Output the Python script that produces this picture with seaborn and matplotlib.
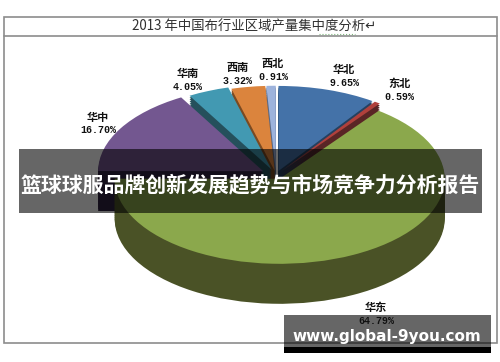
import numpy as np
import matplotlib
matplotlib.use('Agg')
import matplotlib.pyplot as plt
import matplotlib.patches as mpatches
import seaborn as sns

# data
regions = ['华北', '东北', '华东', '华中', '华南', '西南', '西北']
shares = [9.65, 0.59, 64.79, 16.70, 4.05, 3.32, 0.91]
slice_colors = ['#4472a8', '#b0403c', '#8ba84c', '#735790', '#4299b2', '#db843d', '#9db3dc']
side_colors = ['#25405f', '#5a2525', '#4a5226', '#2f2140', '#25505c', '#7a4a22', '#5a6a88']
explode = [0.05, 0.05, 0.05, 0.09, 0.07, 0.05, 0.05]
# back slices first, the big front slice last
draw_order = [6, 5, 4, 0, 1, 3, 2]

chart_title = '2013 年中国布行业区域产量集中度分析'
banner_title = '篮球球服品牌创新发展趋势与市场竞争力分析报告'
watermark = 'www.global-9you.com'

# label centres in pixels
label_xy = [(344, 70), (399, 84), (376, 308), (98, 117), (188, 74), (238, 68), (273, 64)]

W, H = 500, 362
cx, cy = 276, 175
rx, ry = 165, 85
depth = 40

sns.set_theme(style='white')
cjk = ['Noto Sans CJK SC', 'DejaVu Sans']
plt.rcParams['font.family'] = cjk

fig = plt.figure(figsize=(W / 100, H / 100), dpi=100, facecolor='white')

# pie axes, squashed so the circle turns into the tilted ellipse
ax = fig.add_axes([0, 0, 1, 1])
n_layers = 22
for i in range(n_layers + 1):
    off = -depth / ry * (1 - i / n_layers)
    cols = slice_colors if i == n_layers else side_colors
    wedges, _ = ax.pie(shares, colors=cols, explode=explode, startangle=90,
                       counterclock=False, center=(0, off), radius=1,
                       frame=True, wedgeprops={'linewidth': 0})
    for k, w in enumerate(wedges):
        w.set_zorder(10 + draw_order.index(k) * 100 + i)
ax.set_aspect('auto')
ax.set_xlim(-cx / rx, (W - cx) / rx)
ax.set_ylim((cy - H) / ry, cy / ry)
ax.axis('off')

# overlay in pixel coordinates for the frame, text and banners
ov = fig.add_axes([0, 0, 1, 1], facecolor='none')
ov.set_xlim(0, W)
ov.set_ylim(H, 0)
ov.axis('off')

ov.add_patch(mpatches.Rectangle((4, 17), 493, 326, fill=False, ec='#8c8c8c', lw=1.2))
ov.plot([4, 497], [35.5, 35.5], color='#8c8c8c', lw=1.2)
ov.text(254, 27, chart_title + '↵', ha='center', va='center', fontsize=9.6,
        color='#303030', family=cjk)
ov.plot([319, 355], [34, 34], color='#7fb77f', lw=0.8, ls=':')

for name, val, (x, y) in zip(regions, shares, label_xy):
    ov.text(x, y, name, ha='center', va='center', fontsize=8, fontweight='bold',
            color='#111111', family=cjk)
    ov.text(x, y + 13, f'{val:.2f}%', ha='center', va='center', fontsize=7.2,
            fontweight='bold', color='#111111', family='Liberation Mono')

# dark banner across the middle
ov.add_patch(mpatches.Rectangle((19, 149), 463, 64, fc='black', alpha=0.6, ec='none'))
ov.text(250, 185, banner_title, ha='center', va='center', fontsize=15.05,
        fontweight='bold', color='white', family=cjk)

# watermark box, bottom right
ov.add_patch(mpatches.Rectangle((284, 315), 207, 32, fc='black', alpha=0.6, ec='none'))
ov.add_patch(mpatches.Rectangle((284, 347), 207, 6, fc='black', ec='none'))
ov.text(387, 336, watermark, ha='center', va='center', fontsize=11,
        fontweight='bold', color='white', family='DejaVu Sans')

fig.savefig('out.png', dpi=100)
